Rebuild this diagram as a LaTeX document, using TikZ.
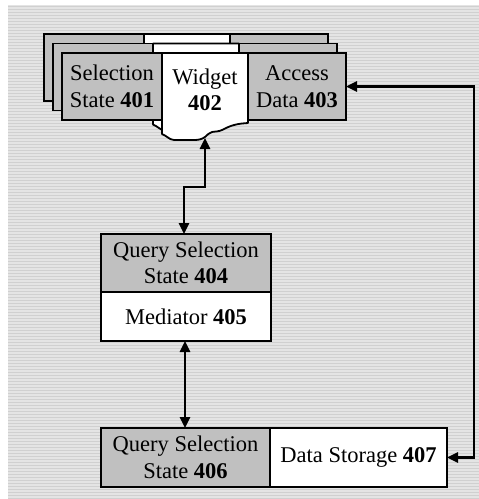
\documentclass[tikz,border=0pt]{standalone}
\usepackage{fontspec}
\setmainfont{Liberation Serif}
\usetikzlibrary{arrows.meta,calc}
\definecolor{panelgray}{HTML}{C0C0C0}
\definecolor{bgbase}{HTML}{E4E4E4}
\definecolor{bgline}{HTML}{D0D0D0}
\tikzset{
  label text/.style={font=\fontsize{22.5}{26.5}\selectfont, align=center},
  graybox/.style={draw, line width=1.8pt, fill=panelgray, inner sep=0pt, outer sep=0pt, label text},
  whitebox/.style={draw, line width=1.8pt, fill=white, inner sep=0pt, outer sep=0pt, label text},
  layerframe/.style={draw, line width=1.8pt, fill=panelgray},
  widgetframe/.style={draw, line width=1.8pt, fill=white, line join=round},
  conn/.style={line width=2.5pt, {Triangle[length=11pt,width=10pt]}-{Triangle[length=11pt,width=10pt]}},
  stripe/.style={bgline, line width=1pt}
}
% outline of the widget sheet with its torn lower edge
\newcommand{\widgetsheet}{(162,53) -- (248,53) -- (248,123)
  to[out=185,in=15] (234,125) to[out=195,in=25] (222,130)
  to[out=205,in=10] (212,132) to[out=190,in=35] (205,137)
  to[out=215,in=0] (193,140) -- (174,140)
  to[out=175,in=-20] (162,134) -- cycle}
\begin{document}
\begin{tikzpicture}[x=1pt,y=-1pt]
\useasboundingbox (0,0) rectangle (479,499);
% striped backdrop
\fill[bgbase] (8,5) rectangle (479,499);
\foreach \yy in {6,9,...,498} \draw[stripe] (8,\yy) -- (479,\yy);

% stacked sheets behind the front one
\foreach \k in {2,1} {
  \begin{scope}[shift={(-9*\k,-9.5*\k)}]
    \draw[layerframe] (62,53) rectangle (346,120);
    \draw[widgetframe] \widgetsheet;
  \end{scope}
}

% front sheet
\node[graybox, minimum width=100pt, minimum height=67pt] (sel) at (112,86.5) {Selection\\State \textbf{401}};
\node[graybox, minimum width=98pt, minimum height=67pt] (acc) at (297,86.5) {Access\\Data \textbf{403}};
\draw[widgetframe] \widgetsheet;
\node[label text] (widget) at (205,90) {Widget\\\textbf{402}};
\coordinate (wtip) at (205,138);

% mediator stack
\node[graybox, minimum width=170pt, minimum height=58pt] (qs1) at (186,263) {Query Selection\\State \textbf{404}};
\node[whitebox, minimum width=170pt, minimum height=49pt] (med) at (186,316.5) {Mediator \textbf{405}};

% storage stack
\node[graybox, minimum width=169pt, minimum height=59pt] (qs2) at (185.5,457.5) {Query Selection\\State \textbf{406}};
\node[whitebox, minimum width=177pt, minimum height=59pt] (ds) at (358.5,457.5) {Data Storage \textbf{407}};

% connectors
\coordinate (b1) at (205,187);
\coordinate (b2) at (184,187);
\draw[conn] (wtip) -- (b1) -- (b2) -- (b2 |- qs1.north);
\coordinate (m1) at (185,0);
\draw[conn] (m1 |- med.south) -- (m1 |- qs2.north);
\coordinate (rtop) at (474,86.5);
\coordinate (rbot) at (474,457.5);
\draw[conn] (acc.east) -- (rtop) -- (rbot) -- (ds.east);
\end{tikzpicture}
\end{document}
